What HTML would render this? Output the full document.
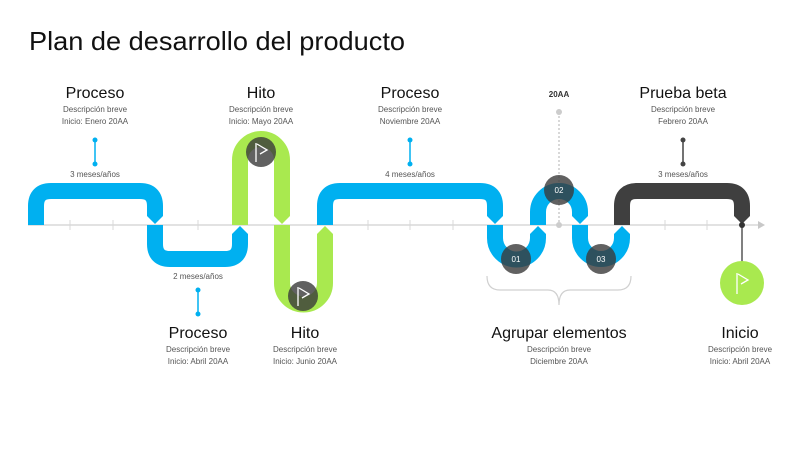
<!DOCTYPE html>
<html><head><meta charset="utf-8"><style>
html,body{margin:0;padding:0;background:#fff;}
svg{display:block;font-family:"Liberation Sans",sans-serif;}
</style></head><body>
<svg width="796" height="450" viewBox="0 0 796 450" xmlns="http://www.w3.org/2000/svg">
<text x="29" y="50" font-size="26" fill="#111" textLength="376" lengthAdjust="spacingAndGlyphs">Plan de desarrollo del producto</text>

<!-- axis -->
<line x1="28" y1="225" x2="758" y2="225" stroke="#d0d0d0" stroke-width="1.2"/>
<polygon points="758,221 765,225 758,229" fill="#c8c8c8"/>
<g stroke="#d8d8d8" stroke-width="1">
<line x1="70" y1="220" x2="70" y2="230"/><line x1="113" y1="220" x2="113" y2="230"/>
<line x1="198" y1="220" x2="198" y2="230"/><line x1="368" y1="220" x2="368" y2="230"/>
<line x1="410" y1="220" x2="410" y2="230"/><line x1="453" y1="220" x2="453" y2="230"/>
<line x1="665" y1="220" x2="665" y2="230"/><line x1="707" y1="220" x2="707" y2="230"/>
</g>

<!-- dashed 20AA -->
<line x1="559" y1="112" x2="559" y2="225" stroke="#ccc" stroke-width="1.5" stroke-dasharray="2,2"/>
<circle cx="559" cy="112" r="3" fill="#ccc"/><circle cx="559" cy="225" r="3" fill="#ccc"/>

<g fill="none" stroke-width="16">
<path d="M36,225 V206 Q36,191 51,191 H140 Q155,191 155,206 V214" stroke="#00b0f0"/>
<path d="M155,225 V244 Q155,259 170,259 H225 Q240,259 240,244 V236" stroke="#00b0f0"/>
<path d="M240,225 V160 A21,21 0 0 1 282,160 V214" stroke="#a9e94f"/>
<path d="M282,225 V283 A21.5,21.5 0 0 0 325,283 V236" stroke="#a9e94f"/>
<path d="M325,225 V206 Q325,191 340,191 H480 Q495,191 495,206 V214" stroke="#00b0f0"/>
<path d="M495,225 V238 A21.5,21.5 0 0 0 538,238 V236" stroke="#00b0f0"/>
<path d="M538,225 V212 A21,21 0 0 1 580,212 V214" stroke="#00b0f0"/>
<path d="M580,225 V238 A21,21 0 0 0 622,238 V236" stroke="#00b0f0"/>
<path d="M622,225 V206 Q622,191 637,191 H727 Q742,191 742,206 V214" stroke="#3f3f3f"/>
</g>
<!-- tips -->
<polygon points="147,213 163,213 163,216 155,224 147,216" fill="#00b0f0"/>
<polygon points="232,237 248,237 248,234 240,226 232,234" fill="#00b0f0"/>
<polygon points="274,213 290,213 290,216 282,224 274,216" fill="#a9e94f"/>
<polygon points="317,237 333,237 333,234 325,226 317,234" fill="#a9e94f"/>
<polygon points="487,213 503,213 503,216 495,224 487,216" fill="#00b0f0"/>
<polygon points="530,237 546,237 546,234 538,226 530,234" fill="#00b0f0"/>
<polygon points="572,213 588,213 588,216 580,224 572,216" fill="#00b0f0"/>
<polygon points="614,237 630,237 630,234 622,226 614,234" fill="#00b0f0"/>
<polygon points="734,213 750,213 750,216 742,224 734,216" fill="#3f3f3f"/>

<!-- milestone circles -->
<g fill="#3a3a3a" fill-opacity="0.8">
<circle cx="261" cy="152" r="15"/><circle cx="303" cy="296" r="15"/>
<circle cx="516" cy="259" r="15"/><circle cx="559" cy="190" r="15"/><circle cx="601" cy="259" r="15"/>
</g>
<g fill="none" stroke="#fff" stroke-width="1.3">
<path d="M256,162 V143 M257,144 L267,150 L260,154"/>
<path d="M298,306 V287 M299,288 L309,294 L302,298"/>
</g>
<g font-size="8" fill="#fff" text-anchor="middle">
<text x="516" y="262">01</text><text x="559" y="193">02</text><text x="601" y="262">03</text>
</g>

<!-- Inicio -->
<line x1="742" y1="225" x2="742" y2="262" stroke="#555" stroke-width="1.5"/>
<circle cx="742" cy="225" r="3" fill="#333"/>
<circle cx="742" cy="283" r="22" fill="#a9e94f"/>
<path d="M737,294 V273 M738,274 L748,280 L741,284" fill="none" stroke="#fff" stroke-width="1.3"/>

<!-- connectors -->
<g stroke-width="1.5">
<line x1="95" y1="140" x2="95" y2="164" stroke="#00b0f0"/><circle cx="95" cy="140" r="2.5" fill="#00b0f0"/><circle cx="95" cy="164" r="2.5" fill="#00b0f0"/>
<line x1="198" y1="290" x2="198" y2="314" stroke="#00b0f0"/><circle cx="198" cy="290" r="2.5" fill="#00b0f0"/><circle cx="198" cy="314" r="2.5" fill="#00b0f0"/>
<line x1="410" y1="140" x2="410" y2="164" stroke="#00b0f0"/><circle cx="410" cy="140" r="2.5" fill="#00b0f0"/><circle cx="410" cy="164" r="2.5" fill="#00b0f0"/>
<line x1="683" y1="140" x2="683" y2="164" stroke="#444"/><circle cx="683" cy="140" r="2.5" fill="#444"/><circle cx="683" cy="164" r="2.5" fill="#444"/>
</g>

<!-- brace -->
<path d="M487,276 Q487,290 500,290 H548 Q559,290 559,305 Q559,290 570,290 H618 Q631,290 631,276" fill="none" stroke="#d0d0d0" stroke-width="1.2"/>

<!-- texts -->
<g text-anchor="middle" fill="#111" font-size="16">
<text x="95" y="98">Proceso</text><text x="261" y="98">Hito</text><text x="410" y="98">Proceso</text><text x="683" y="98">Prueba beta</text>
<text x="198" y="338">Proceso</text><text x="305" y="338">Hito</text><text x="559" y="338">Agrupar elementos</text><text x="740" y="338">Inicio</text>
</g>
<g text-anchor="middle" fill="#555" font-size="8">
<text x="95" y="112">Descripción breve</text><text x="95" y="124">Inicio: Enero 20AA</text>
<text x="261" y="112">Descripción breve</text><text x="261" y="124">Inicio: Mayo 20AA</text>
<text x="410" y="112">Descripción breve</text><text x="410" y="124">Noviembre 20AA</text>
<text x="683" y="112">Descripción breve</text><text x="683" y="124">Febrero 20AA</text>
<text x="198" y="352">Descripción breve</text><text x="198" y="364">Inicio: Abril 20AA</text>
<text x="305" y="352">Descripción breve</text><text x="305" y="364">Inicio: Junio 20AA</text>
<text x="559" y="352">Descripción breve</text><text x="559" y="364">Diciembre 20AA</text>
<text x="740" y="352">Descripción breve</text><text x="740" y="364">Inicio: Abril 20AA</text>
<text x="95" y="177">3 meses/años</text><text x="198" y="279">2 meses/años</text>
<text x="410" y="177">4 meses/años</text><text x="683" y="177">3 meses/años</text>
<text x="559" y="97" font-weight="bold" fill="#333">20AA</text>
</g>
</svg>
</body></html>
